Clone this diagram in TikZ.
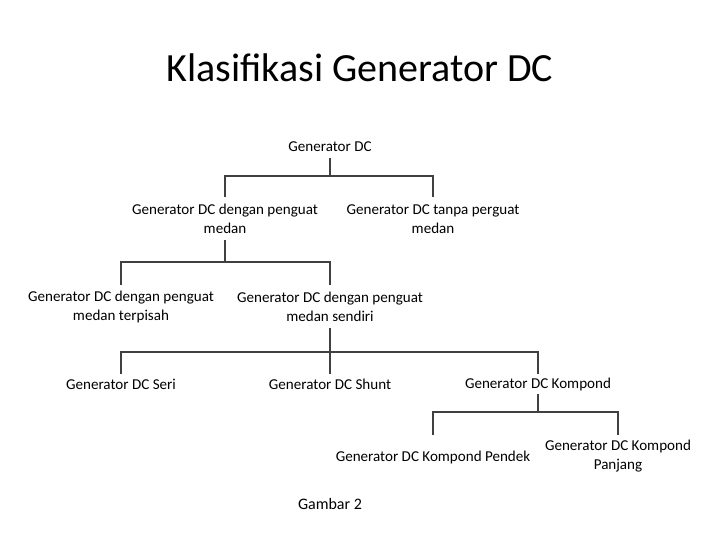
\documentclass[tikz,border=0pt]{standalone}
\usepackage{fontspec}
\setmainfont{Carlito}
\begin{document}
\begin{tikzpicture}[x=0.75pt,y=-0.75pt,
  lbl/.style={align=center,font=\fontsize{11.3}{14.5}\selectfont,inner sep=2pt},
  ln/.style={draw=black!75,line width=0.8pt}]
\useasboundingbox[fill=white] (0,0) rectangle (720,540);
\node[font=\fontsize{30}{34}\selectfont] (title) at (360,68) {Klasifikasi Generator DC};
\node[lbl] (g) at (330,147) {Generator DC};
\node[lbl] (a) at (225,219) {Generator DC dengan penguat\\medan};
\node[lbl] (b) at (433,219) {Generator DC tanpa perguat\\medan};
\node[lbl] (a1) at (121,307) {Generator DC dengan penguat\\medan terpisah};
\node[lbl] (a2) at (330,307) {Generator DC dengan penguat\\medan sendiri};
\node[lbl] (s1) at (121,384) {Generator DC Seri};
\node[lbl] (s2) at (330,384) {Generator DC Shunt};
\node[lbl] (s3) at (538,384) {Generator DC Kompond};
\node[lbl] (k1) at (433,457) {Generator DC Kompond Pendek};
\node[lbl] (k2) at (618,456) {Generator DC Kompond\\Panjang};
\node[lbl,font=\fontsize{12}{14}\selectfont] (cap) at (330,504) {Gambar 2};
\coordinate (t1) at (0,158); \coordinate (h1) at (0,176); \coordinate (e1) at (0,197);
\coordinate (t2) at (0,240); \coordinate (h2) at (0,262); \coordinate (e2) at (0,285);
\coordinate (t3) at (0,328); \coordinate (h3) at (0,352); \coordinate (e3) at (0,374);
\coordinate (t4) at (0,394); \coordinate (h4) at (0,412); \coordinate (e4) at (0,435);
\draw[ln] (g |- t1) -- (g |- h1);
\draw[ln] (a |- e1) -- (a |- h1) -- (b |- h1) -- (b |- e1);
\draw[ln] (a |- t2) -- (a |- h2);
\draw[ln] (a1 |- e2) -- (a1 |- h2) -- (a2 |- h2) -- (a2 |- e2);
\draw[ln] (a2 |- t3) -- (a2 |- h3);
\draw[ln] (s1 |- e3) -- (s1 |- h3) -- (s3 |- h3) -- (s3 |- e3);
\draw[ln] (s2 |- h3) -- (s2 |- e3);
\draw[ln] (s3 |- t4) -- (s3 |- h4);
\draw[ln] (k1 |- e4) -- (k1 |- h4) -- (k2 |- h4) -- (k2 |- e4);
\end{tikzpicture}
\end{document}
